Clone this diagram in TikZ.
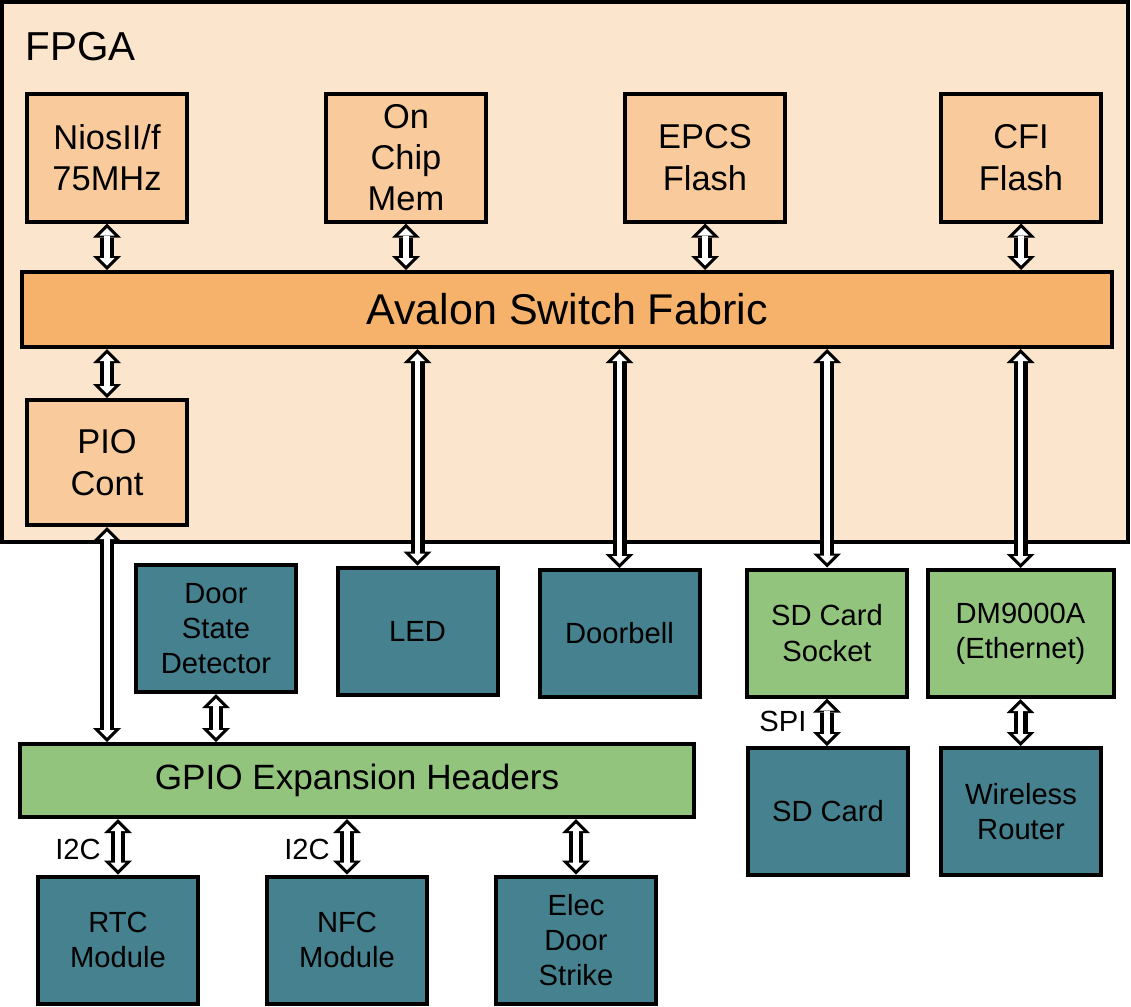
\documentclass[tikz,border=0pt]{standalone}
\usepackage{fontspec}
\setmainfont{Liberation Sans}
\usepackage{tikz}
\usetikzlibrary{
  arrows.meta,
  positioning,
  calc
}
\definecolor{FpgaBg}{HTML}{FCE5CD}
\definecolor{BlockOrange}{HTML}{F9CB9C}
\definecolor{BusOrange}{HTML}{F6B26B}
\definecolor{PortGreen}{HTML}{93C47D}
\definecolor{DevTeal}{HTML}{45818E}
\tikzset{
  % Block inside the FPGA
  blk/.style={
    rectangle, draw=black, line width=0.8mm,
    fill=#1, minimum width=32mm, minimum height=25.6mm,
    align=center, font=\fontsize{19.6}{23.5}\selectfont, inner sep=0pt
  },
  % External device box
  dev/.style={
    rectangle, draw=black, line width=0.8mm,
    fill=#1, minimum width=32mm, minimum height=25.4mm,
    align=center, font=\fontsize{16.6}{20}\selectfont, inner sep=0pt
  },
  % Wide bus bar
  bus/.style={
    rectangle, draw=black, line width=0.8mm,
    fill=#1, align=center, inner sep=0pt
  },
  % Hollow bidirectional link
  link/.style={
    draw=black, line width=2.8mm,
    {Triangle[width=5.6mm,length=2.8mm,line width=0pt]}-{Triangle[width=5.6mm,length=2.8mm,line width=0pt]},
    postaction={draw=white, line width=1.1mm, shorten <=0.9mm, shorten >=0.9mm,
      {Triangle[width=3mm,length=1.5mm,line width=0pt]}-{Triangle[width=3mm,length=1.5mm,line width=0pt]}}
  },
  % Protocol label
  lbl/.style={font=\fontsize{16.6}{18}\selectfont, inner sep=0pt}
}
\begin{document}
\begin{tikzpicture}[x=0.2mm, y=-0.2mm]
  \useasboundingbox (0,0) rectangle (1131,1007);
  % FPGA outline
  \draw[line width=0.8mm, fill=FpgaBg] (2,2) rectangle (1128,542);
  \node[anchor=base west, font=\fontsize{23}{26}\selectfont, inner sep=0pt] (fpga) at (25,60) {FPGA};

  % blocks on the bus
  \node[blk=BlockOrange] (nios) at (107,157.5) {NiosII/f\\75MHz};
  \node[blk=BlockOrange] (ocm)  at (406,157.5) {On\\Chip\\Mem};
  \node[blk=BlockOrange] (epcs) at (705,157.5) {EPCS\\Flash};
  \node[blk=BlockOrange] (cfi)  at (1021,157.5) {CFI\\Flash};
  \node[bus=BusOrange, minimum width=218mm, minimum height=15mm,
        font=\fontsize{24.5}{28}\selectfont] (avalon) at (567,309.5) {Avalon Switch Fabric};
  \node[blk=BlockOrange, minimum height=25mm] (pio) at (107,462.5) {PIO\\Cont};

  % devices hanging off the FPGA
  \node[dev=DevTeal]   (door)   at (216,628.5)  {Door\\State\\Detector};
  \node[dev=DevTeal]   (led)    at (417.5,631)  {LED};
  \node[dev=DevTeal]   (bell)   at (619.5,633.5) {Doorbell};
  \node[dev=PortGreen] (sdsock) at (827,633)    {SD Card\\Socket};
  \node[dev=PortGreen, minimum width=37.2mm] (dm) at (1020.5,633.5) {DM9000A\\(Ethernet)};
  \node[bus=PortGreen, minimum width=134.8mm, minimum height=14.6mm,
        font=\fontsize{20}{23}\selectfont] (gpio) at (357,780.5) {GPIO Expansion Headers};
  \node[dev=DevTeal]   (sdcard) at (828,811.5)  {SD Card};
  \node[dev=DevTeal]   (router) at (1021,811.5) {Wireless\\Router};
  \node[dev=DevTeal]   (rtc)    at (118,940)    {RTC\\Module};
  \node[dev=DevTeal]   (nfc)    at (347,940)    {NFC\\Module};
  \node[dev=DevTeal]   (strike) at (576,940)    {Elec\\Door\\Strike};

  % links
  \foreach \n in {nios,ocm,epcs,cfi}
    \draw[link] (\n.south) -- (\n.south |- avalon.north);
  \foreach \n in {pio,led,bell,sdsock,dm}
    \draw[link] (\n.north |- avalon.south) -- (\n.north);
  \draw[link] (pio.south) -- (pio.south |- gpio.north);
  \draw[link] (door.south) -- (door.south |- gpio.north);
  \draw[link] (sdsock.south) -- (sdsock.south |- sdcard.north);
  \draw[link] (dm.south) -- (dm.south |- router.north);
  \foreach \n in {rtc,nfc,strike}
    \draw[link] (\n.north |- gpio.south) -- (\n.north);

  % bus labels
  \node[lbl] (spi)  at (783,721) {SPI};
  \node[lbl] (i2ca) at (78,849)  {I2C};
  \node[lbl] (i2cb) at (307,849) {I2C};
\end{tikzpicture}
\end{document}
